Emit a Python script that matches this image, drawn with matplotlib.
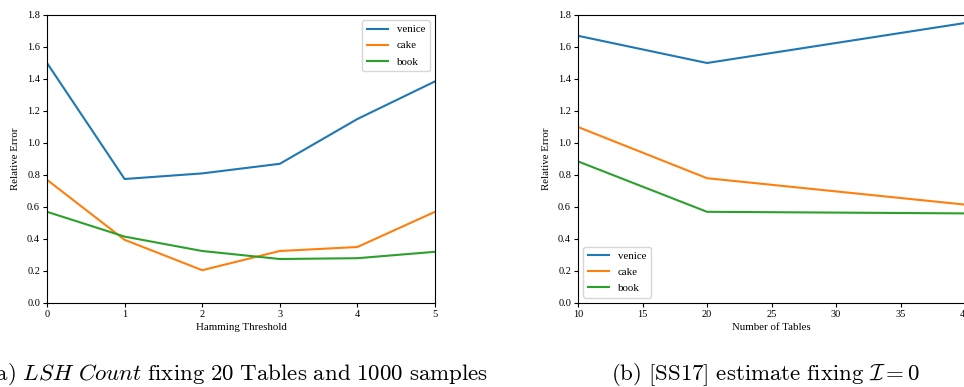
import numpy as np
from matplotlib import pyplot as plt

plt.rcParams["font.family"] = ["Liberation Serif", "DejaVu Serif"]
plt.rcParams["mathtext.fontset"] = "cm"

SERIES = ["venice", "cake", "book"]

# (a) LSH Count, error vs hamming threshold
hamming = [0, 1, 2, 3, 4, 5]
hamming_venice = [1.50, 0.775, 0.81, 0.87, 1.15, 1.385]
hamming_cake = [0.77, 0.395, 0.205, 0.325, 0.35, 0.57]
hamming_book = [0.57, 0.415, 0.325, 0.275, 0.28, 0.32]

# (b) [SS17] estimate, error vs number of tables
tables = [10, 20, 40]
tables_venice = [1.67, 1.50, 1.75]
tables_cake = [1.10, 0.78, 0.615]
tables_book = [0.885, 0.57, 0.56]

W, H = 964, 387
TICK_SIZE = 7.5
LABEL_SIZE = 7.8
CAPTION_SIZE = 16.5

fig = plt.figure(figsize=(W / 100, H / 100), dpi=100)


def px_axes(x0, x1, y0, y1):
    return fig.add_axes([x0 / W, 1 - y1 / H, (x1 - x0) / W, (y1 - y0) / H])


def style(ax, xlabel):
    ax.set_ylim(0, 1.8)
    ax.set_yticks(np.arange(0, 1.81, 0.2))
    ax.set_yticklabels(["%.1f" % v for v in np.arange(0, 1.81, 0.2)])
    ax.tick_params(labelsize=TICK_SIZE, length=3, pad=2)
    ax.set_xlabel(xlabel, fontsize=LABEL_SIZE, labelpad=3)
    ax.set_ylabel("Relative Error", fontsize=LABEL_SIZE, labelpad=5)


ax1 = px_axes(47, 435, 15, 303)
for name, vals in zip(SERIES, [hamming_venice, hamming_cake, hamming_book]):
    ax1.plot(hamming, vals, label=name)
ax1.set_xlim(0, 5)
style(ax1, "Hamming Threshold")
ax1.legend(loc="upper right", fontsize=LABEL_SIZE, labelspacing=0.6)

ax2 = px_axes(578, 965, 15, 303)
for name, vals in zip(SERIES, [tables_venice, tables_cake, tables_book]):
    ax2.plot(tables, vals, label=name)
ax2.set_xlim(10, 40)
style(ax2, "Number of Tables")
ax2.legend(loc="lower left", fontsize=LABEL_SIZE, labelspacing=0.6)

fig.text(
    238 / W, 1 - 375 / H,
    r"$\mathrm{(a)}\ \mathit{LSH\ Count}\ \mathrm{fixing\ 20\ Tables\ and\ 1000\ samples}$",
    ha="center", va="center", fontsize=CAPTION_SIZE,
)
fig.text(
    766 / W, 1 - 375 / H,
    r"$\mathrm{(b)\ [SS17]\ estimate\ fixing\ }\mathcal{I}=0$",
    ha="center", va="center", fontsize=CAPTION_SIZE,
)

fig.savefig("out.png", dpi=100)
